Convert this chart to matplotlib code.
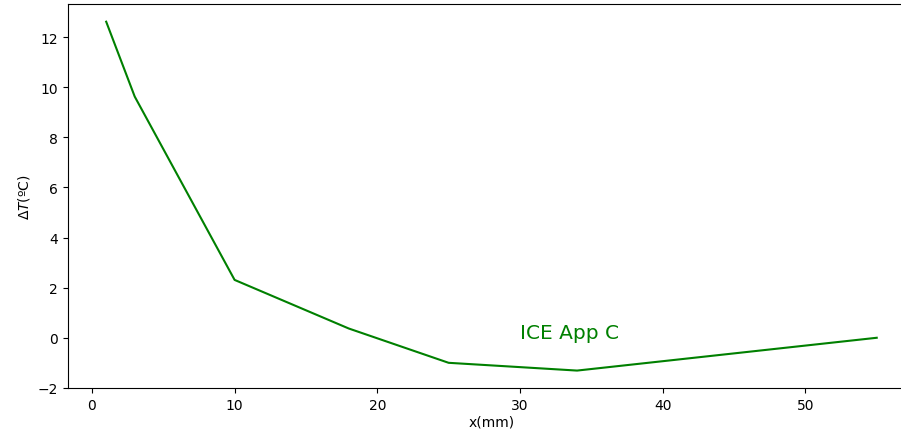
import matplotlib
matplotlib.use("Agg")
import matplotlib.pyplot as plt

# temperature difference along x
x_mm = [1, 3, 10, 18, 25, 34, 55]
delta_t = [12.62, 9.63, 2.31, 0.37, -1.0, -1.31, 0.0]

fig = plt.figure(figsize=(9.01, 4.31), dpi=100)
# the original is cropped on the right, so the axes run past the figure edge
ax = fig.add_axes([0.0751, 0.0974, 0.9407, 0.8904])

ax.plot(x_mm, delta_t, color="green")
ax.text(30, 0.0, "ICE App C", color="green", fontsize=14.5)

ax.set_xlabel("x(mm)", labelpad=2)
ax.set_ylabel(r"$\Delta T$(ºC)")
ax.spines["right"].set_visible(False)

fig.savefig("out.png", dpi=100)
